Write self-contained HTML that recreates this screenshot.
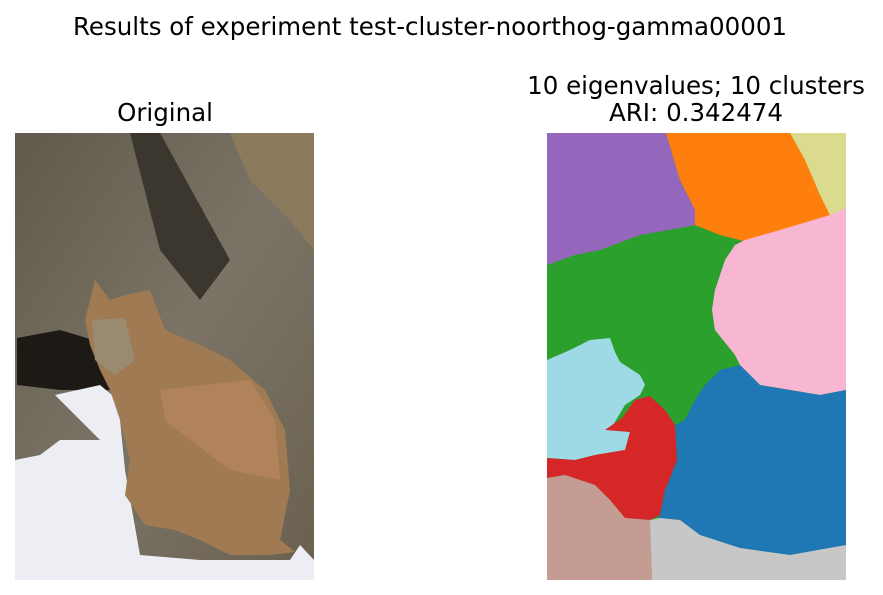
<!DOCTYPE html>
<html><head><meta charset="utf-8"><style>
body{margin:0;background:#fff;width:883px;height:595px;overflow:hidden;font-family:"DejaVu Sans","Liberation Sans",sans-serif;}
.t{position:absolute;color:#000;white-space:nowrap;text-align:center;line-height:28px;}
</style></head><body>
<div class="t" style="left:0;width:860px;top:13px;font-size:24.5px;">Results of experiment test-cluster-noorthog-gamma00001</div>
<div class="t" style="left:65px;width:200px;top:99px;font-size:24.5px;">Original</div>
<div class="t" style="left:446px;width:500px;top:72px;font-size:24.5px;line-height:27px;">10 eigenvalues; 10 clusters<br>ARI: 0.342474</div>
<svg width="883" height="595" style="position:absolute;left:0;top:0">
<g>
<defs><linearGradient id="rk" x1="0" y1="0" x2="1" y2="1"><stop offset="0" stop-color="#5f5a4c"/><stop offset="0.5" stop-color="#7b7466"/><stop offset="1" stop-color="#6a6050"/></linearGradient></defs>
<rect x="15" y="133" width="299" height="447" fill="url(#rk)"/>
<polygon points="230,133 314,133 314,250 290,220 250,180" fill="#8c7a5c"/>
<polygon points="130,133 160,133 230,260 200,300 160,250" fill="#3b362e"/>
<polygon points="17,338 60,330 110,345 120,390 60,390 17,385" fill="#1d1a16"/>
<polygon points="15,460 40,455 60,440 100,440 70,410 55,395 100,385 118,400 125,470 140,555 200,560 290,560 300,545 314,560 314,580 15,580" fill="#eceef3"/>
<polygon points="95,280 110,300 125,295 150,290 165,330 200,345 230,360 265,390 285,430 290,490 280,540 295,552 270,555 230,555 200,540 175,530 145,525 125,495 130,460 120,420 110,390 100,370 90,345 85,320" fill="#a07a52"/>
<polygon points="160,390 250,380 275,420 280,480 230,470 190,440 165,420" fill="#b0835a"/>
<polygon points="92,320 125,318 135,360 115,375 95,360" fill="#9a8a70"/>
</g>
<g>
<rect x="547" y="133" width="299" height="447" fill="#2ca02c"/>
<polygon fill="#9467bd" points="547,133 666,133 680,180 695,210 695,225 680,228 640,235 600,250 575,255 547,265"/>
<polygon fill="#ff7f0e" points="666,133 790,133 805,160 820,195 840,212 815,222 780,232 745,242 740,240 720,235 695,225 695,210 680,180"/>
<polygon fill="#dbdb8d" points="790,133 846,133 846,210 830,215 820,195 805,160"/>
<polygon fill="#f7b6d2" points="846,208 846,390 820,395 790,390 760,385 740,365 735,355 715,330 712,310 715,290 720,275 725,260 735,245 745,240 780,230 830,215"/>
<polygon fill="#1f77b4" points="675,425 685,420 695,400 705,385 720,370 740,365 760,385 790,390 820,395 846,390 846,546 790,555 740,548 700,535 680,520 658,518 660,515 665,490 670,478 677,460"/>
<polygon fill="#9edae5" points="547,360 570,350 590,340 610,338 615,352 620,362 640,375 645,385 640,395 625,405 610,430 630,432 625,450 595,455 575,460 547,458"/>
<polygon fill="#d62728" points="547,458 575,460 595,455 625,450 630,432 605,430 622,418 635,400 650,396 665,410 675,425 677,460 670,478 665,490 660,515 650,520 625,518 610,500 595,485 565,475 547,478"/>
<polygon fill="#c49c94" points="547,478 565,475 595,485 610,500 625,518 650,520 652,580 547,580"/>
<polygon fill="#c7c7c7" points="650,520 660,518 680,520 700,535 740,548 790,555 846,545 846,580 652,580"/>
</g>
</svg>
</body></html>
